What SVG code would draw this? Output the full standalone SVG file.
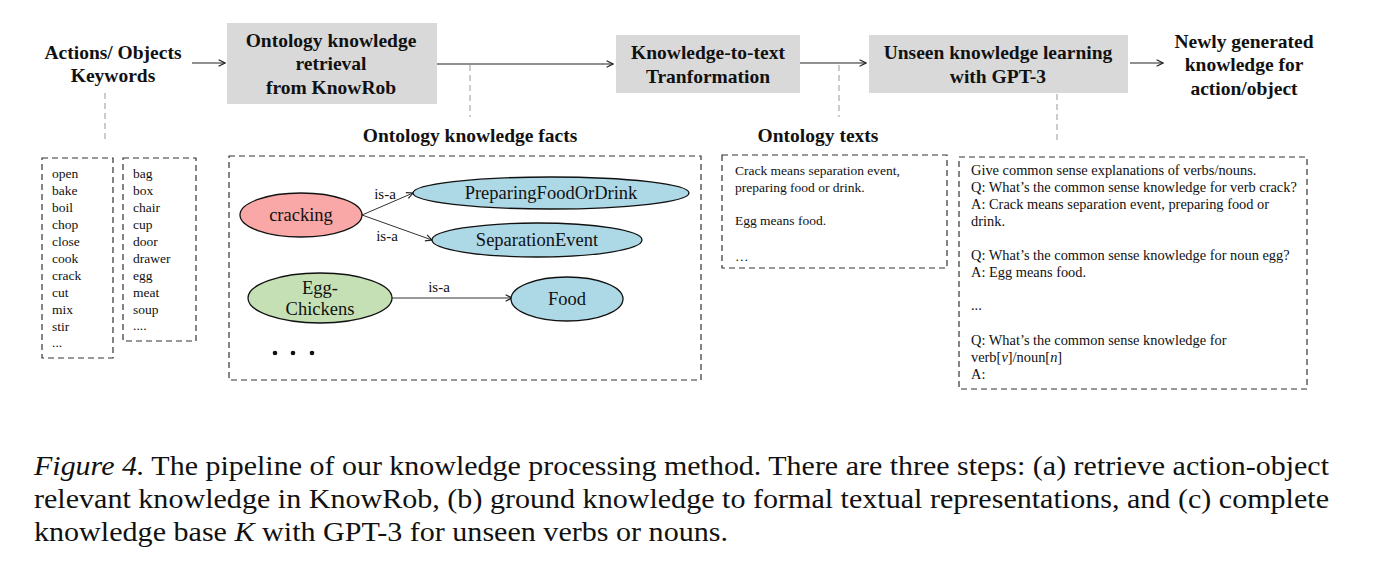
<svg xmlns="http://www.w3.org/2000/svg" width="1376" height="566" viewBox="0 0 1376 566">
<style>
text{font-family:"Liberation Serif","Times New Roman",serif;fill:#111}
.h{font-size:19.5px;font-weight:bold;text-anchor:middle}
.gbox{fill:#d9d9d9;stroke:none}
.dbox{fill:none;stroke:#333;stroke-width:1.2;stroke-dasharray:6 4}
.lead{fill:none;stroke:#aaa;stroke-width:1.2;stroke-dasharray:6 4}
.arr{fill:none;stroke:#222;stroke-width:1.2;marker-end:url(#ah)}
.edge{fill:none;stroke:#333;stroke-width:1;marker-end:url(#ah)}
.s{font-size:13.5px}
.p{font-size:14.4px}
.lbl{font-size:15px;text-anchor:middle}
.nt{font-size:18.5px;text-anchor:middle}
.ell{stroke:#111;stroke-width:1.3}
.cap{font-size:26.5px}
</style>
<defs>
<marker id="ah" viewBox="0 0 10 10" refX="9" refY="5" markerWidth="8" markerHeight="8" markerUnits="userSpaceOnUse" orient="auto">
<path d="M1,1 L9,5 L1,9" fill="none" stroke="#222" stroke-width="1.4"/>
</marker>
</defs>
<rect width="1376" height="566" fill="#fff"/>

<g id="connectors">
<line class="arr" x1="192" y1="63" x2="225" y2="63"/>
<line class="arr" x1="437" y1="64" x2="613" y2="64"/>
<line class="arr" x1="800" y1="63" x2="866" y2="63"/>
<line class="arr" x1="1130" y1="63" x2="1163" y2="63"/>
<line class="lead" x1="105" y1="93" x2="105" y2="143"/>
<line class="lead" x1="470" y1="65" x2="470" y2="117"/>
<line class="lead" x1="839" y1="65" x2="839" y2="117"/>
<line class="lead" x1="1057" y1="94" x2="1057" y2="142"/>
<line class="edge" x1="362" y1="215" x2="413" y2="193"/>
<line class="edge" x1="362" y1="215" x2="432" y2="240"/>
<line class="edge" x1="392" y1="298" x2="512" y2="298"/>
</g>

<g id="input">
<text class="h" x="113" y="59">Actions/ Objects</text>
<text class="h" x="113" y="82">Keywords</text>
</g>

<g id="retrieval">
<rect class="gbox" x="227" y="23" width="210" height="81"/>
<text class="h" x="331" y="47">Ontology knowledge</text>
<text class="h" x="331" y="70">retrieval</text>
<text class="h" x="331" y="94">from KnowRob</text>
</g>

<g id="k2t">
<rect class="gbox" x="616" y="35" width="184" height="58"/>
<text class="h" x="708" y="59">Knowledge-to-text</text>
<text class="h" x="708" y="83">Tranformation</text>
</g>

<g id="gpt3">
<rect class="gbox" x="869" y="35" width="259" height="58"/>
<text class="h" x="998" y="59">Unseen knowledge learning</text>
<text class="h" x="998" y="83">with GPT-3</text>
</g>

<g id="output">
<text class="h" x="1244" y="48">Newly generated</text>
<text class="h" x="1244" y="71">knowledge for</text>
<text class="h" x="1244" y="95">action/object</text>
</g>

<g id="actions-list">
<rect class="dbox" x="42" y="158" width="71" height="200"/>
<text class="s" x="52" y="178">open</text>
<text class="s" x="52" y="195">bake</text>
<text class="s" x="52" y="212">boil</text>
<text class="s" x="52" y="229">chop</text>
<text class="s" x="52" y="246">close</text>
<text class="s" x="52" y="263">cook</text>
<text class="s" x="52" y="280">crack</text>
<text class="s" x="52" y="297">cut</text>
<text class="s" x="52" y="314">mix</text>
<text class="s" x="52" y="331">stir</text>
<text class="s" x="52" y="347">...</text>
</g>

<g id="objects-list">
<rect class="dbox" x="123" y="158" width="73" height="183"/>
<text class="s" x="133" y="178">bag</text>
<text class="s" x="133" y="195">box</text>
<text class="s" x="133" y="212">chair</text>
<text class="s" x="133" y="229">cup</text>
<text class="s" x="133" y="246">door</text>
<text class="s" x="133" y="263">drawer</text>
<text class="s" x="133" y="280">egg</text>
<text class="s" x="133" y="297">meat</text>
<text class="s" x="133" y="314">soup</text>
<text class="s" x="133" y="330">....</text>
</g>

<g id="facts">
<text class="h" x="470" y="142">Ontology knowledge facts</text>
<rect class="dbox" x="229" y="156" width="472" height="224"/>
<text class="lbl" x="385" y="199">is-a</text>
<text class="lbl" x="387" y="241">is-a</text>
<text class="lbl" x="439" y="292">is-a</text>
<circle cx="275" cy="353" r="2.3" fill="#111"/>
<circle cx="293" cy="353" r="2.3" fill="#111"/>
<circle cx="312" cy="353" r="2.3" fill="#111"/>
</g>

<g id="node-cracking">
<ellipse class="ell" cx="301" cy="215" rx="61" ry="22" fill="#f9a7a7"/>
<text class="nt" x="301" y="221">cracking</text>
</g>
<g id="node-preparing">
<ellipse class="ell" cx="551" cy="193" rx="138" ry="16" fill="#add8e6"/>
<text class="nt" x="551" y="199">PreparingFoodOrDrink</text>
</g>
<g id="node-separation">
<ellipse class="ell" cx="537" cy="240" rx="105" ry="17" fill="#add8e6"/>
<text class="nt" x="537" y="246">SeparationEvent</text>
</g>
<g id="node-egg">
<ellipse class="ell" cx="320" cy="298" rx="72" ry="25" fill="#c5e0b4"/>
<text class="nt" x="320" y="294">Egg-</text>
<text class="nt" x="320" y="315">Chickens</text>
</g>
<g id="node-food">
<ellipse class="ell" cx="567" cy="299" rx="56" ry="22" fill="#add8e6"/>
<text class="nt" x="567" y="305">Food</text>
</g>

<g id="texts">
<text class="h" x="818" y="142">Ontology texts</text>
<rect class="dbox" x="722" y="155" width="225" height="113"/>
<text class="s" x="735" y="175">Crack means separation event,</text>
<text class="s" x="735" y="192">preparing food or drink.</text>
<text class="s" x="735" y="225">Egg means food.</text>
<text class="s" x="735" y="261">…</text>
</g>

<g id="prompt">
<rect class="dbox" x="959" y="157" width="348" height="232"/>
<text class="p" x="971" y="175">Give common sense explanations of verbs/nouns.</text>
<text class="p" x="971" y="192">Q: What’s the common sense knowledge for verb crack?</text>
<text class="p" x="971" y="209">A: Crack means separation event, preparing food or</text>
<text class="p" x="971" y="226">drink.</text>
<text class="p" x="971" y="260">Q: What’s the common sense knowledge for noun egg?</text>
<text class="p" x="971" y="277">A: Egg means food.</text>
<text class="p" x="971" y="310">...</text>
<text class="p" x="971" y="345">Q: What’s the common sense knowledge for</text>
<text class="p" x="971" y="362">verb[<tspan font-style="italic">v</tspan>]/noun[<tspan font-style="italic">n</tspan>]</text>
<text class="p" x="971" y="379">A:</text>
</g>

<g id="caption">
<text class="cap" x="34" y="475" textLength="1295" lengthAdjust="spacingAndGlyphs"><tspan font-style="italic">Figure 4.</tspan> The pipeline of our knowledge processing method. There are three steps: (a) retrieve action-object</text>
<text class="cap" x="34" y="508" textLength="1295" lengthAdjust="spacingAndGlyphs">relevant knowledge in KnowRob, (b) ground knowledge to formal textual representations, and (c) complete</text>
<text class="cap" x="34" y="541" textLength="694" lengthAdjust="spacingAndGlyphs">knowledge base <tspan font-style="italic">K</tspan> with GPT-3 for unseen verbs or nouns.</text>
</g>
</svg>
